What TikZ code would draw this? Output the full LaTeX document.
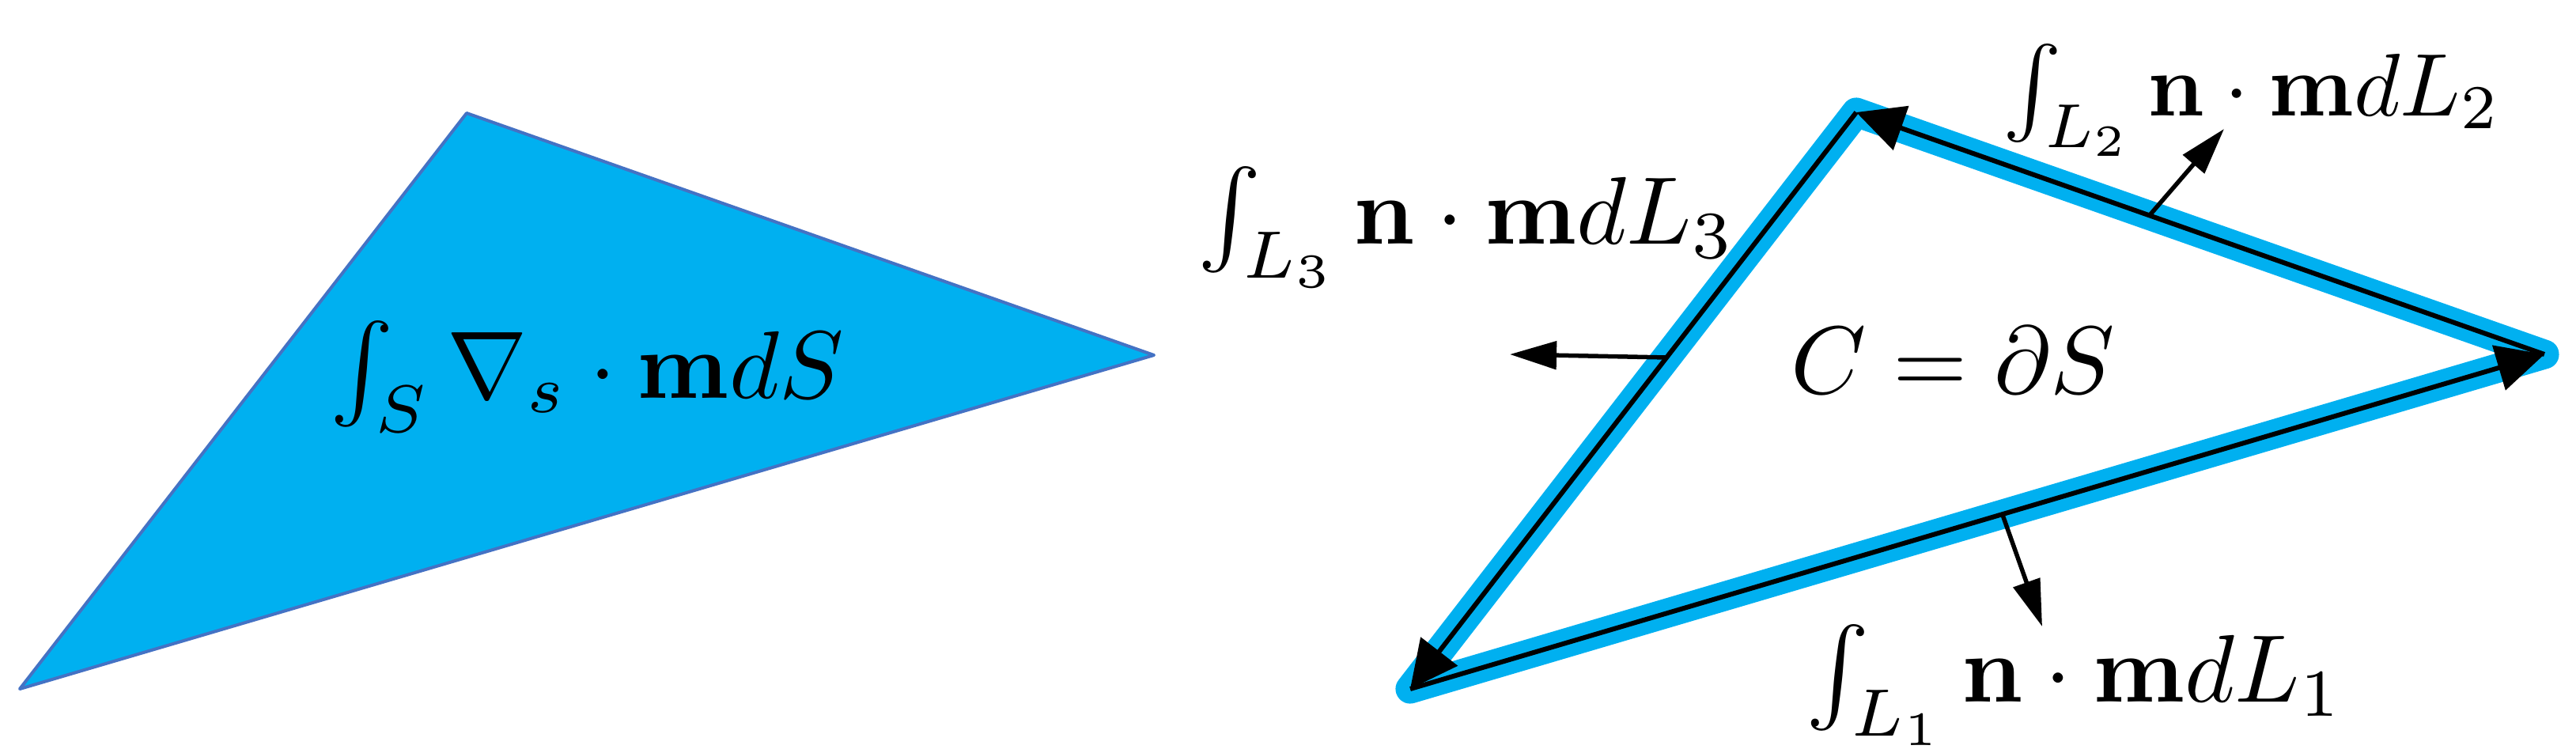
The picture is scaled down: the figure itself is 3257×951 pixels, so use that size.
\documentclass[tikz,border=0pt]{standalone}
\usetikzlibrary{arrows.meta}
\definecolor{skyb}{HTML}{00B0F0}
\definecolor{edgeb}{HTML}{4472C4}
\begin{document}
\begin{tikzpicture}[x=0.01cm,y=-0.01cm,
  lbl/.style={inner sep=0pt, scale=3.45, anchor=base west},
  edgearrow/.style={draw=black, line width=0.6mm, -{Triangle[length=6mm,width=5.8mm]}},
  normarrow/.style={draw=black, line width=0.55mm, -{Triangle[length=5.9mm,width=3.5mm]}},
  surf/.style={fill=skyb, draw=edgeb, line width=0.4mm, line join=round},
  bound/.style={draw=skyb, line width=3.7mm, line join=round}
 ]
\useasboundingbox (0,0) rectangle (3257,951);
% left surface
\coordinate (P1) at (590,143);
\coordinate (P2) at (1459,449);
\coordinate (P3) at (25,871);
\draw[surf] (P1) -- (P2) -- (P3) -- cycle;
\node[lbl] (tS) at (415,503) {$\int_S \nabla_s\cdot\mathbf{m}dS$};
% right boundary
\coordinate (T) at (2347,142);
\coordinate (R) at (3217,448);
\coordinate (B) at (1783,871);
\draw[bound] (T) -- (R) -- (B) -- cycle;
\draw[edgearrow] (T) -- (B);
\draw[edgearrow] (B) -- (R);
\draw[edgearrow] (R) -- (T);
% normals
\coordinate (n2a) at (2718,272);
\coordinate (n2b) at (2812,163);
\coordinate (n1a) at (2532,651);
\coordinate (n1b) at (2582,792);
\coordinate (n3a) at (2108,452);
\coordinate (n3b) at (1909,448);
\draw[normarrow] (n2a) -- (n2b);
\draw[normarrow] (n1a) -- (n1b);
\draw[normarrow] (n3a) -- (n3b);
% labels
\node[lbl] (tL3) at (1512,308) {$\int_{L_3}\mathbf{n}\cdot\mathbf{m}dL_3$};
\node[lbl, scale=3.2/3.45] (tL2) at (2530,146) {$\int_{L_2}\mathbf{n}\cdot\mathbf{m}dL_2$};
\node[lbl] (tL1) at (2281,887) {$\int_{L_1}\mathbf{n}\cdot\mathbf{m}dL_1$};
\node[lbl] (tC) at (2262,497) {$C=\partial S$};
\end{tikzpicture}
\end{document}
